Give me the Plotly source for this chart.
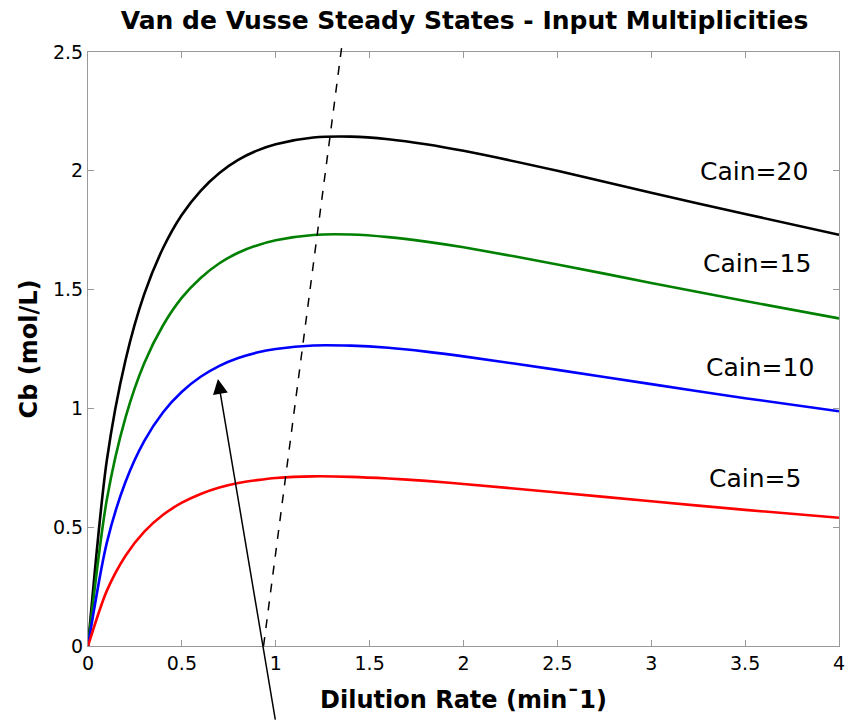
import plotly.graph_objects as go

# Dilution rate (min^-1) sample points
dilution = [0.0, 0.1, 0.2, 0.3, 0.4, 0.5, 0.6, 0.7, 0.8, 0.9, 1.0, 1.2, 1.4, 1.6, 1.8,
            2.0, 2.5, 3.0, 3.5, 4.0]

# Cb (mol/L)
cb_cain5 = [0.0, 0.232, 0.380, 0.481, 0.552, 0.603, 0.640, 0.667, 0.686, 0.698, 0.707,
            0.714, 0.712, 0.705, 0.695, 0.682, 0.646, 0.609, 0.573, 0.540]
cb_cain10 = [0.0, 0.434, 0.691, 0.863, 0.984, 1.070, 1.133, 1.179, 1.212, 1.235, 1.250,
             1.265, 1.264, 1.255, 1.239, 1.219, 1.162, 1.102, 1.043, 0.988]
cb_cain15 = [0.0, 0.615, 0.962, 1.191, 1.350, 1.466, 1.549, 1.611, 1.655, 1.686, 1.708,
             1.730, 1.732, 1.721, 1.702, 1.678, 1.606, 1.528, 1.452, 1.379]
cb_cain20 = [0.0, 0.780, 1.204, 1.482, 1.675, 1.815, 1.916, 1.991, 2.046, 2.085, 2.112,
             2.140, 2.144, 2.133, 2.112, 2.084, 2.000, 1.908, 1.818, 1.731]

series = [
    ("Cain=20", cb_cain20, "#000000"),
    ("Cain=15", cb_cain15, "#008000"),
    ("Cain=10", cb_cain10, "#0000ff"),
    ("Cain=5", cb_cain5, "#ff0000"),
]

# curve labels: text, x, y
label_text = ["Cain=20", "Cain=15", "Cain=10", "Cain=5"]
label_x = [3.546, 3.561, 3.577, 3.551]
label_y = [1.995, 1.608, 1.174, 0.707]

# dashed guide line (data coords), may extend slightly above the axes
dash_x = [0.935, 1.356]
dash_y = [0.0, 2.55]

# arrow: tip and tail (data coords)
arrow_tip = (0.692, 1.124)
arrow_tail = (0.999, -0.316)

x_range = [0, 4]
y_range = [0, 2.5]

fig = go.Figure()
for name, vals, col in series:
    fig.add_trace(go.Scatter(x=dilution, y=vals, mode="lines", name=name,
                             line=dict(color=col, width=2.6, shape="spline", smoothing=0.8)))

def to_paper(v, rng):
    return (v - rng[0]) / (rng[1] - rng[0])

fig.add_shape(type="line", xref="paper", yref="paper",
              x0=to_paper(dash_x[0], x_range), y0=to_paper(dash_y[0], y_range),
              x1=to_paper(dash_x[1], x_range), y1=to_paper(dash_y[1], y_range),
              line=dict(color="black", width=1.5, dash="dash"))

for t, lx, ly in zip(label_text, label_x, label_y):
    fig.add_annotation(x=lx, y=ly, xref="x", yref="y", text=t, showarrow=False,
                       xanchor="center", yanchor="middle",
                       font=dict(family="DejaVu Sans", size=25, color="black"))

fig.add_annotation(x=arrow_tip[0], y=arrow_tip[1], xref="x", yref="y",
                   ax=arrow_tail[0], ay=arrow_tail[1], axref="x", ayref="y",
                   text="", showarrow=True, arrowhead=2, arrowsize=2,
                   arrowwidth=1.5, arrowcolor="black", standoff=0)

axis_common = dict(showgrid=False, zeroline=False, showline=True, linecolor="#999999",
                   linewidth=1.2, mirror="ticks", ticks="inside", ticklen=6,
                   tickcolor="#999999", tickwidth=1.2,
                   tickfont=dict(family="DejaVu Sans", size=19, color="black"))

fig.update_layout(
    width=854, height=721,
    margin=dict(l=88, r=9, t=52, b=75),
    paper_bgcolor="white", plot_bgcolor="white",
    showlegend=False,
    title=dict(text="<b>Van de Vusse Steady States - Input Multiplicities</b>",
               x=0.544, xanchor="center", y=0.972, yanchor="middle", yref="container",
               font=dict(family="DejaVu Sans", size=25, color="black")),
    xaxis=dict(range=x_range, tickvals=[0, 0.5, 1, 1.5, 2, 2.5, 3, 3.5, 4],
               ticktext=["0", "0.5", "1", "1.5", "2", "2.5", "3", "3.5", "4"],
               title=dict(text="<b>Dilution Rate (min¯1)</b>", standoff=18,
                          font=dict(family="DejaVu Sans", size=24, color="black")),
               **axis_common),
    yaxis=dict(range=y_range, tickvals=[0, 0.5, 1, 1.5, 2, 2.5],
               ticktext=["0", "0.5", "1", "1.5", "2", "2.5"],
               title=dict(text="<b>Cb (mol/L)</b>", standoff=8,
                          font=dict(family="DejaVu Sans", size=24, color="black")),
               **axis_common),
)

fig.write_html("out.html")
